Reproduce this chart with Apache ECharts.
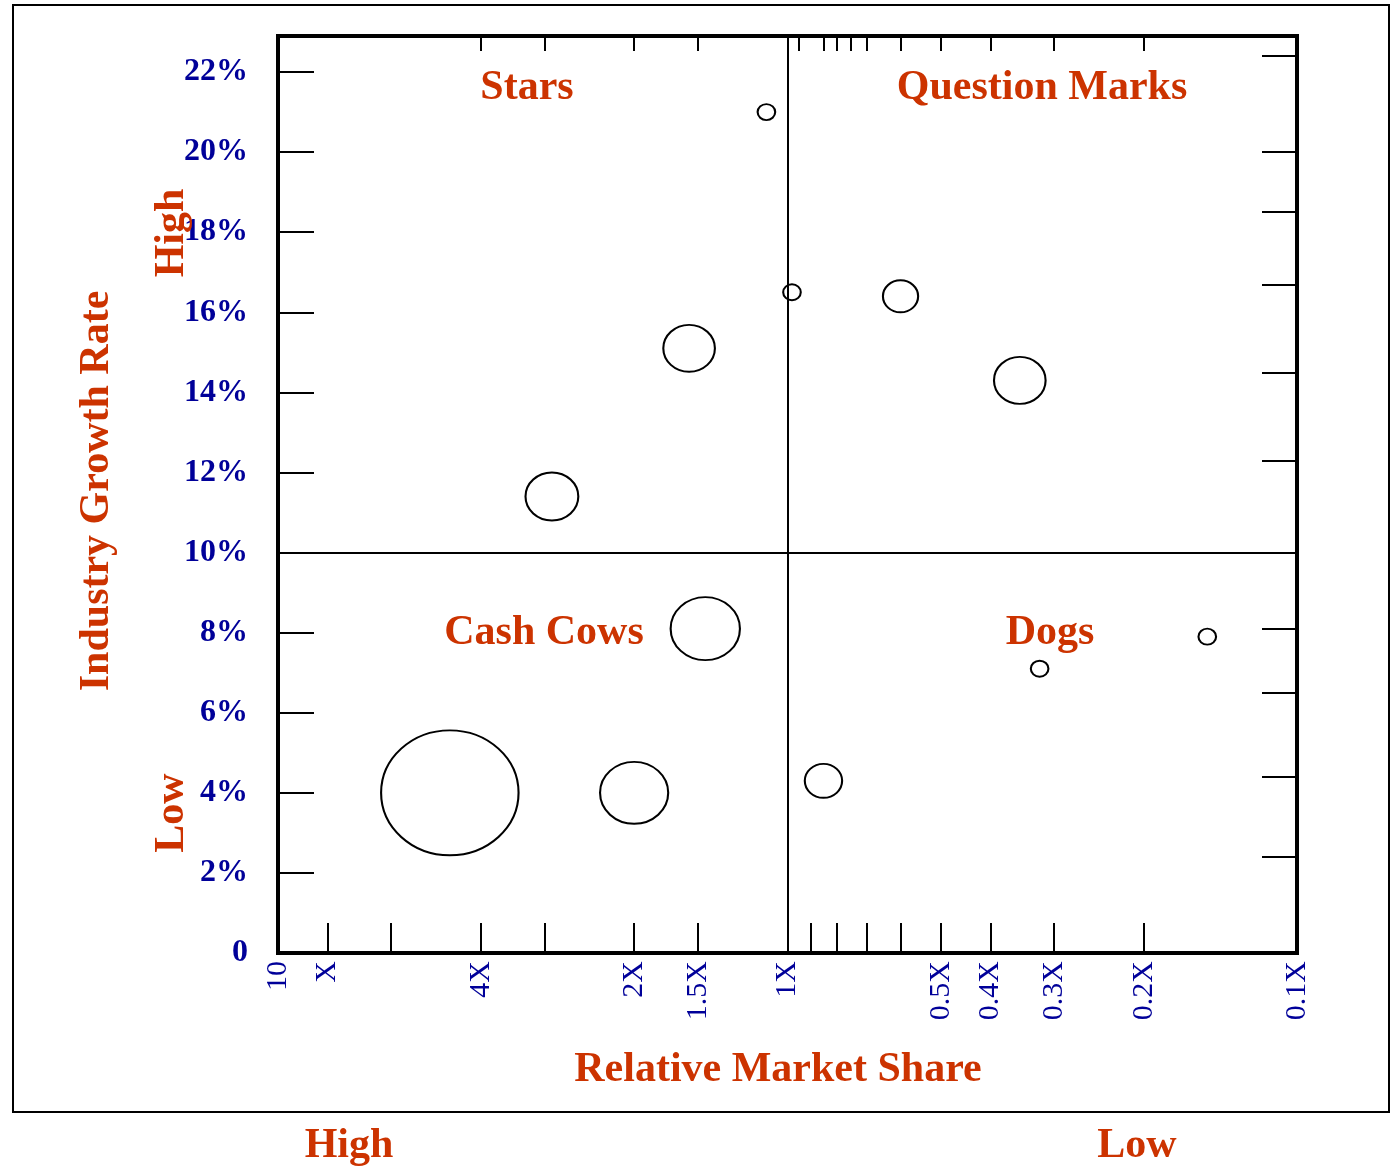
<!DOCTYPE html>
<html>
<head>
    <meta charset="UTF-8">
    <title>Growth-Share Matrix</title>
    <script src="https://cdn.jsdelivr.net/npm/echarts@6/dist/echarts.min.js"></script>
    <style>
        body { margin: 0; background: #fff; }
    </style>
</head>
<body>
<div id="chart" style="width:1392px; height:1168px;"></div>
<script>
    // relative market share (x), industry growth % (y), sales (bubble area)
    var shareX  = [1.1, 0.98, 1.56, 0.6, 0.35, 2.9, 1.45, 0.15, 0.32, 4.6, 2.0, 0.85];
    var growthY = [21.0, 16.5, 15.1, 16.4, 14.3, 11.4, 8.1, 7.9, 7.1, 4.0, 4.0, 4.3];
    var sales   = [1, 1, 8.6, 4, 8.6, 9, 15.5, 1, 1, 61, 15, 4.5];

    var xLabelValues = [10, 8, 4, 2, 1.5, 1, 0.5, 0.4, 0.3, 0.2, 0.1];
    var xLabels = ['10', 'X', '4X', '2X', '1.5X', '1X', '0.5X', '0.4X', '0.3X', '0.2X', '0.1X'];
    var xTicksBottom = [10, 8, 6, 4, 3, 2, 1.5, 0.9, 0.8, 0.7, 0.6, 0.5, 0.4, 0.3, 0.2];
    var xTicksTop = [10, 4, 3, 2, 1.5, 0.95, 0.85, 0.8, 0.75, 0.7, 0.6, 0.5, 0.4, 0.3, 0.2];

    var yLabelValues = [0, 2, 4, 6, 8, 10, 12, 14, 16, 18, 20, 22];
    var yTicksLeft = [2, 4, 6, 8, 10, 12, 14, 16, 18, 20, 22];
    var yTicksRight = [2.4, 4.4, 6.5, 8.1, 12.3, 14.5, 16.7, 18.5, 20.0, 22.4];

    var quadrants = ['Stars', 'Question Marks', 'Cash Cows', 'Dogs'];

    var RED = '#cc3300';
    var BLUE = '#000099';
    var SERIF = '"Liberation Serif", "Times New Roman", serif';

    var points = shareX.map(function (x, i) {
        return [x, growthY[i], sales[i]];
    });

    function xLabelText(v) {
        for (var i = 0; i < xLabelValues.length; i++) {
            if (Math.abs(xLabelValues[i] - v) < 1e-6 * xLabelValues[i]) return xLabels[i];
        }
        return '';
    }

    function redText(text, x, y, rot) {
        return {
            type: 'text',
            x: x, y: y,
            rotation: rot || 0,
            z: 10,
            style: {
                text: text,
                fill: RED,
                font: 'bold 42px ' + SERIF,
                align: 'center',
                verticalAlign: 'middle'
            }
        };
    }

    var chart = echarts.init(document.getElementById('chart'), null, {renderer: 'canvas'});

    var option = {
        animation: false,
        backgroundColor: '#fff',
        grid: {
            left: 278, right: 95, top: 36, bottom: 215,
            show: true,
            borderColor: '#000',
            borderWidth: 4,
            backgroundColor: 'transparent'
        },
        xAxis: [{
            type: 'log',
            logBase: 10,
            min: 0.1,
            max: 10,
            inverse: true,
            position: 'bottom',
            axisLine: {show: false, onZero: false},
            splitLine: {show: false},
            axisTick: {
                inside: true,
                length: 30,
                customValues: xTicksBottom,
                lineStyle: {color: '#000', width: 2}
            },
            axisLabel: {
                customValues: xLabelValues,
                formatter: xLabelText,
                rotate: 90,
                margin: 8,
                color: BLUE,
                fontFamily: SERIF,
                fontSize: 30
            }
        }, {
            type: 'log',
            logBase: 10,
            min: 0.1,
            max: 10,
            inverse: true,
            position: 'top',
            axisLine: {show: false, onZero: false},
            splitLine: {show: false},
            axisLabel: {show: false},
            axisTick: {
                inside: true,
                length: 15,
                customValues: xTicksTop,
                lineStyle: {color: '#000', width: 2}
            }
        }],
        yAxis: [{
            type: 'value',
            min: 0,
            max: 22.9,
            position: 'left',
            axisLine: {show: false, onZero: false},
            splitLine: {show: false},
            axisTick: {
                inside: true,
                length: 36,
                customValues: yTicksLeft,
                lineStyle: {color: '#000', width: 2}
            },
            axisLabel: {
                customValues: yLabelValues,
                formatter: function (v) { return v === 0 ? '0' : v + '%'; },
                margin: 30,
                color: BLUE,
                fontFamily: SERIF,
                fontWeight: 'bold',
                fontSize: 32
            }
        }, {
            type: 'value',
            min: 0,
            max: 22.9,
            position: 'right',
            axisLine: {show: false, onZero: false},
            splitLine: {show: false},
            axisLabel: {show: false},
            axisTick: {
                inside: true,
                length: 35,
                customValues: yTicksRight,
                lineStyle: {color: '#000', width: 2}
            }
        }],
        series: [{
            type: 'scatter',
            xAxisIndex: 0,
            yAxisIndex: 0,
            data: points,
            symbol: 'circle',
            symbolSize: function (val) {
                var d = 16 * Math.sqrt(val[2]);
                return [d * 1.1, d];
            },
            itemStyle: {
                color: 'rgba(255,255,255,0)',
                borderColor: '#000',
                borderWidth: 2,
                opacity: 1
            },
            emphasis: {disabled: true},
            markLine: {
                silent: true,
                symbol: 'none',
                label: {show: false},
                lineStyle: {color: '#000', width: 2, type: 'solid'},
                data: [{xAxis: 1}, {yAxis: 10}]
            }
        }],
        graphic: [
            {
                type: 'rect',
                z: -1,
                shape: {x: 13, y: 5, width: 1376, height: 1107},
                style: {fill: 'none', stroke: '#000', lineWidth: 2}
            },
            redText(quadrants[0], 527, 88),
            redText(quadrants[1], 1042, 88),
            redText(quadrants[2], 544, 633),
            redText(quadrants[3], 1050, 633),
            redText('Industry Growth Rate', 97, 491, Math.PI / 2),
            redText('High', 172, 233, Math.PI / 2),
            redText('Low', 172, 813, Math.PI / 2),
            redText('Relative Market Share', 778, 1070),
            redText('High', 349, 1146),
            redText('Low', 1137, 1146)
        ]
    };

    chart.setOption(option);
</script>
</body>
</html>
